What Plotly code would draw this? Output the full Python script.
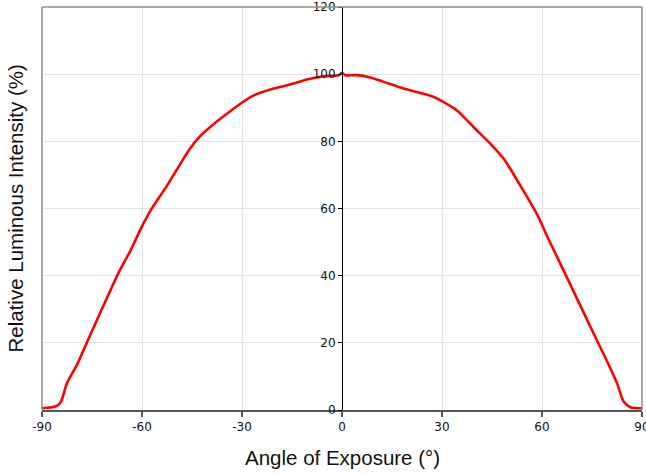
import plotly.graph_objects as go

angles = [-90, -85.5, -84.3, -82.5, -79.5, -75.5, -70.5, -67, -63.5, -60.2, -57.5, -52.5,
          -48.5, -46, -42.5, -39.5, -36.5, -30.5, -26.5, -20.5, -14.5, -10.5, -5.5, -1, 0,
          1, 4.5, 8.5, 12.5, 18.5, 23.5, 27.5, 30.5, 34.5, 39.5, 44.5, 48.5, 53.5, 58.5,
          61.5, 67.5, 73.5, 79.5, 82.5, 84.5, 86.5, 90]
intensity = [0.5, 1.2, 2.5, 8, 13.5, 22.4, 33.4, 40.9, 47.4, 54.3, 59.3, 66.8,
             73.3, 77.3, 81.6, 84.3, 86.7, 91.2, 93.7, 95.7, 97.2, 98.4, 99.4, 99.7, 100.4,
             99.7, 99.7, 99.0, 97.7, 95.7, 94.4, 93.2, 91.7, 89.2, 84.2, 79.3, 74.8, 66.8, 58.3,
             51.8, 39.4, 26.9, 14.5, 8, 2.5, 0.8, 0.5]

x_ticks = [-90, -60, -30, 0, 30, 60, 90]
x_ticktext = ["-90", "-60", "-30", "0", "30", "60", "90"]
y_ticks = [0, 20, 40, 60, 80, 100, 120]
y_ticktext = ["0", "20", "40", "60", "80", "100", "120"]

fig = go.Figure()
fig.add_trace(go.Scatter(x=angles, y=intensity, mode="lines",
                         line=dict(color="#ff0000", width=2.6, shape="spline", smoothing=0.8),
                         hoverinfo="x+y", showlegend=False))

tickfont = dict(family="DejaVu Sans, Verdana, sans-serif", size=12, color="#111111")
titlefont = dict(family="Liberation Sans, Arial, sans-serif", size=20.5, color="#111111")

fig.update_layout(
    width=646, height=475,
    margin=dict(l=42, r=4, t=7, b=65, autoexpand=False),
    paper_bgcolor="white", plot_bgcolor="white",
    xaxis=dict(range=[-90, 90], tickvals=x_ticks, ticktext=x_ticktext,
               showgrid=True, gridcolor="#e4e4e4", gridwidth=1, zeroline=False,
               showline=True, linecolor="#555555", linewidth=2,
               ticks="outside", ticklen=5, tickcolor="#555555", tickwidth=1.5,
               tickfont=tickfont, fixedrange=True, automargin=False,
               ticklabeloverflow="allow"),
    yaxis=dict(range=[0, 120], tickvals=y_ticks, ticktext=y_ticktext,
               anchor="free", position=0.5,
               showgrid=True, gridcolor="#e4e4e4", gridwidth=1, zeroline=False,
               showline=True, linecolor="#000000", linewidth=1,
               ticks="outside", ticklen=4, tickcolor="#000000", tickwidth=1,
               tickfont=tickfont, fixedrange=True, automargin=False),
    shapes=[
        dict(type="line", xref="paper", yref="paper", x0=0, x1=0, y0=0, y1=1,
             line=dict(color="#8c8c8c", width=1.5)),
        dict(type="line", xref="paper", yref="paper", x0=0, x1=1, y0=1, y1=1,
             line=dict(color="#8c8c8c", width=1.5)),
        dict(type="line", xref="paper", yref="paper", x0=1, x1=1, y0=0, y1=1,
             line=dict(color="#8c8c8c", width=1.5)),
    ],
    annotations=[
        dict(text="Angle of Exposure (°)", xref="paper", yref="paper", x=0.5, y=-0.117,
             xanchor="center", yanchor="middle", showarrow=False, font=titlefont),
        dict(text="Relative Luminous Intensity (%)", xref="paper", yref="paper",
             x=-0.045, y=0.5, xanchor="center", yanchor="middle", showarrow=False, textangle=-90,
             font=titlefont),
    ],
)

fig.write_html("out.html", config={"responsive": False, "displayModeBar": False},
               post_script="document.body.style.margin='0';document.body.style.overflow='hidden';")
